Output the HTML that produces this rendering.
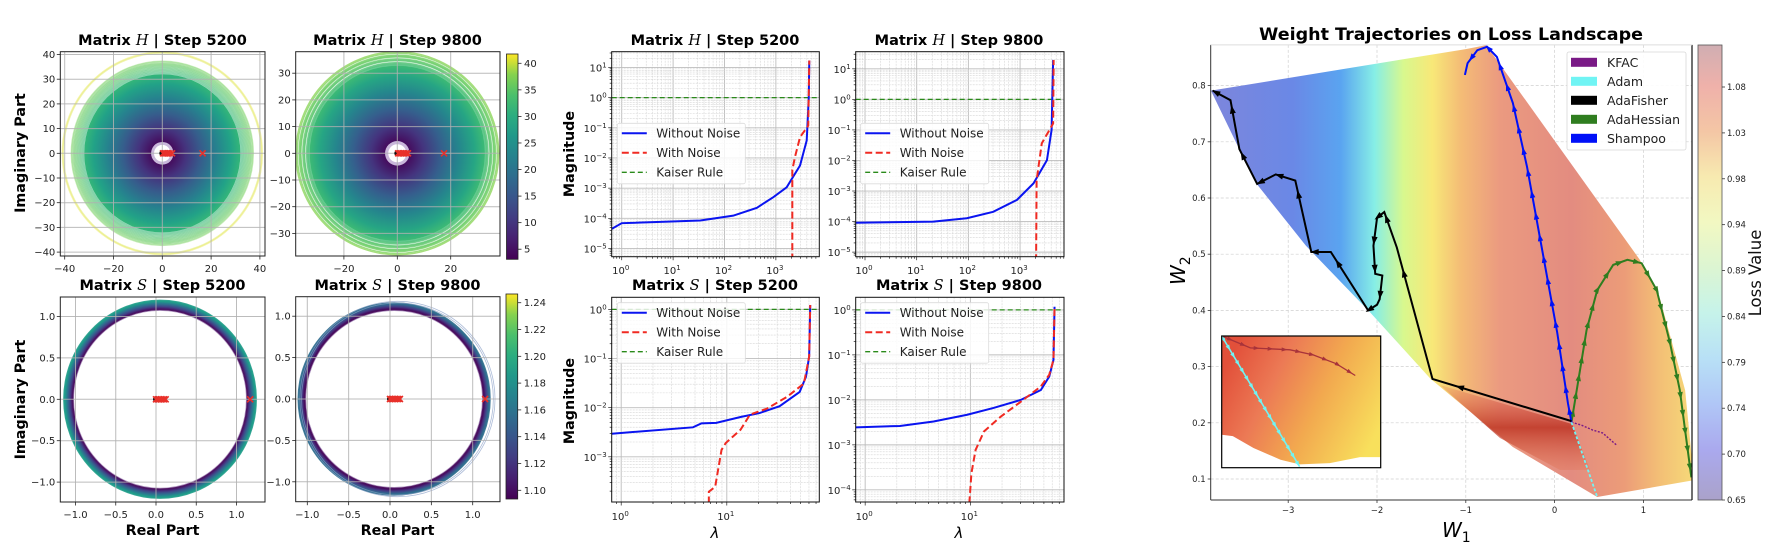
<!DOCTYPE html>
<html><head><meta charset="utf-8"><title>Eigen spectra and weight trajectories</title>
<style>
html,body{margin:0;padding:0;background:#fff;}
svg{display:block;font-family:"DejaVu Sans","Liberation Sans",sans-serif;}
</style></head>
<body>
<svg id="fig" width="1770" height="550" viewBox="0 0 1770 550" xmlns="http://www.w3.org/2000/svg">
<defs id="defs"></defs>
<rect x="0" y="0" width="1770" height="550" fill="#ffffff"/>
</svg>
<script>
// ================= DATA =================
const h1RingRadii=[41,40.6,37.3,37,36.6,36.3,36,35.7,35.4,35.1,34.8,34.5,34.2,33.9,33.6,33.3,33,32.7,32.4,32.1];
const h1Markers=[0.3,0.8,1.3,1.8,2.4,3,4,16.5];
const h2RingRadii=[38,37.5,36.8,36.4,36.1,35.4,35,34.7,34,33.6,33.3,32.9];
const h2Markers=[0.3,0.8,1.3,1.9,2.5,3.2,4,17.5];
const h1XTicks=[-40,-20,0,20,40];
const h1YTicks=[-40,-30,-20,-10,0,10,20,30,40];
const h2XTicks=[-20,0,20];
const h2YTicks=[-30,-20,-10,0,10,20,30];
const cb1Ticks=[5,10,15,20,25,30,35,40];
const s1RingRadii=[1.075,1.09,1.1,1.11,1.12,1.13,1.14,1.15,1.16,1.17,1.18,1.19];
const s1Markers=[0,0.02,0.04,0.06,0.08,0.1,0.12,1.17];
const s2RingRadii=[1.07,1.085,1.095,1.105,1.115,1.125,1.135,1.145,1.155];
const s2Markers=[0,0.02,0.04,0.06,0.08,0.1,0.12,1.15];
const sTicks=[-1,-0.5,0,0.5,1];
const sTickLabels=['\u22121.0','\u22120.5','0.0','0.5','1.0'];
const cb2Ticks=[1.10,1.12,1.14,1.16,1.18,1.20,1.22,1.24];
const p5BlueLx=[-0.195,0,1.53,2.17,2.63,2.95,3.21,3.47,3.6,3.64,3.65];
const p5BlueLy=[-4.35,-4.16,-4.07,-3.91,-3.65,-3.3,-2.97,-2.25,-1.42,0,1.23];
const p5RedLx=[3.32,3.32,3.37,3.47,3.63,3.65];
const p5RedLy=[-5.4,-2.4,-1.98,-1.31,-0.93,1.23];
const p6BlueLx=[-0.18,1.32,1.97,2.48,2.94,3.26,3.52,3.61,3.64];
const p6BlueLy=[-4.04,-4.0,-3.89,-3.68,-3.29,-2.75,-1.99,-1.0,1.29];
const p6RedLx=[3.31,3.32,3.42,3.64,3.65];
const p6RedLy=[-5.3,-2.65,-1.44,-0.79,1.29];
const p7BlueLx=[-0.09,0.68,0.76,0.9,1.13,1.31,1.5,1.69,1.75,1.78,1.79];
const p7BlueLy=[-2.53,-2.4,-2.32,-2.31,-2.19,-2.11,-1.97,-1.68,-1.37,-0.96,0.09];
const p7RedLx=[0.83,0.83,0.89,0.95,0.99,1.13,1.22,1.38,1.57,1.73,1.78,1.79];
const p7RedLy=[-3.95,-3.71,-3.61,-2.86,-2.72,-2.45,-2.14,-2.02,-1.78,-1.51,-0.96,0.09];
const p8BlueLx=[-0.09,0.33,0.65,0.97,1.22,1.48,1.67,1.75,1.79,1.8];
const p8BlueLy=[-2.61,-2.58,-2.48,-2.33,-2.18,-2.0,-1.78,-1.48,-1.11,0.07];
const p8RedLx=[0.99,1.01,1.05,1.13,1.29,1.48,1.67,1.75,1.79,1.8];
const p8RedLy=[-4.3,-3.63,-3.11,-2.7,-2.37,-2.04,-1.7,-1.44,-1.11,0.07];
const kaiserLevel=0;
const fisherW1=[0.19,-1.375,-1.777,-1.918,-1.999,-2.04,-2.02,-1.94,-1.97,-2.0,-2.10,-2.52,-2.74,-2.92,-3.14,-3.35,-3.55,-3.65,-3.85];
const fisherW2=[0.203,0.278,0.512,0.575,0.565,0.515,0.465,0.462,0.42,0.41,0.40,0.504,0.504,0.631,0.642,0.625,0.687,0.774,0.791];
const shampooW1=[0.19,0.15,0.03,-0.16,-0.31,-0.47,-0.65,-0.76,-0.87,-0.98,-1.01];
const shampooW2=[0.201,0.235,0.36,0.525,0.655,0.769,0.851,0.869,0.863,0.84,0.819];
const hessianW1=[0.19,0.36,0.48,0.66,0.82,0.98,1.15,1.30,1.41,1.54];
const hessianW2=[0.201,0.365,0.436,0.481,0.49,0.484,0.436,0.342,0.258,0.103];
const kfacW1=[0.19,0.3,0.43,0.54,0.70];
const kfacW2=[0.201,0.196,0.187,0.182,0.16];
const adamW1=[0.19,0.48];
const adamW2=[0.201,0.068];
const landW1=[-3.87,-1.0,-0.77,0.96,1.19,1.47,1.57,0.48,-0.47,-1.395,-2.08,-2.80,-3.37];
const landW2=[0.791,0.865,0.872,0.49,0.419,0.258,0.098,0.068,0.157,0.278,0.397,0.515,0.628];
const wXTicks=[-3,-2,-1,0,1];
const wYTicks=[0.1,0.2,0.3,0.4,0.5,0.6,0.7,0.8];
const lossTicks=['1.08','1.03','0.98','0.94','0.89','0.84','0.79','0.74','0.70','0.65'];
const legendNames=['KFAC','Adam','AdaFisher','AdaHessian','Shampoo'];
const legendColors=['#7a1a86','#70f4f4','#000000','#2f7d1f','#0010f8'];
const insetCyanX=[0,0.49], insetCyanY=[1,0.008];
const insetKfacX=[0.01,0.18,0.43,0.575,0.72,0.84];
const insetKfacY=[0.995,0.91,0.895,0.857,0.79,0.70];
const insetEdgeX=[0,0.07,0.2,0.37,0.49,0.68,0.87,1];
const insetEdgeY=[0.25,0.24,0.15,0.06,0.025,0.035,0.08,0.08];

// ================= HELPERS =================
const NS='http://www.w3.org/2000/svg';
const svg=document.getElementById('fig');
const defs=document.getElementById('defs');
function mk(tag,attrs,parent){const e=document.createElementNS(NS,tag);for(const k in attrs)e.setAttribute(k,attrs[k]);(parent||svg).appendChild(e);return e;}
function txt(s,attrs,parent){const e=mk('text',attrs,parent);e.textContent=s;return e;}
function lin(d0,d1,p0,p1){return v=>p0+(v-d0)*(p1-p0)/(d1-d0);}
const VIR=[[0,[68,1,84]],[0.13,[72,40,120]],[0.25,[62,73,137]],[0.38,[49,104,142]],[0.5,[38,130,142]],[0.63,[31,158,137]],[0.75,[53,183,121]],[0.88,[110,206,88]],[1,[253,231,37]]];
function viridis(t){t=Math.max(0,Math.min(1,t));for(let i=1;i<VIR.length;i++){if(t<=VIR[i][0]){const a=VIR[i-1],b=VIR[i];const f=(t-a[0])/(b[0]-a[0]);const c=a[1].map((v,j)=>Math.round(v+(b[1][j]-v)*f));return `rgb(${c[0]},${c[1]},${c[2]})`;}}return 'rgb(253,231,37)';}
function sup(parent,base,exp,attrs){const t=mk('text',attrs,parent);t.appendChild(document.createTextNode(base));const s=mk('tspan',{dy:-4,'font-size':7},t);s.textContent=exp;return t;}
function clip(id,x,y,w,h){const c=mk('clipPath',{id:id},defs);mk('rect',{x:x,y:y,width:w,height:h},c);return `url(#${id})`;}
function arrowHead(g,x,y,ang,col,s){
  const c=Math.cos(ang),si=Math.sin(ang);
  const p=[[x+c*s,y+si*s],[x-c*s*0.7-si*s*0.6,y-si*s*0.7+c*s*0.6],[x-c*s*0.7+si*s*0.6,y-si*s*0.7-c*s*0.6]];
  const a=mk('polygon',{points:p.map(q=>q.join(',')).join(' '),fill:col},g);
  
  
}
function arrowsAlong(g,pts,col,step,s){
  let acc=step/2;
  for(let i=1;i<pts.length;i++){const [x1,y1]=pts[i-1],[x2,y2]=pts[i];const L=Math.hypot(x2-x1,y2-y1);if(L<1)continue;const ang=Math.atan2(y2-y1,x2-x1);
    let d=acc;while(d<L){arrowHead(g,x1+(x2-x1)*d/L,y1+(y2-y1)*d/L,ang,col,s);d+=step;}acc=d-L;}
}

// ================= CIRCLE PANELS =================
function frameAndTicks(g,box,sx,sy,xt,xl,yt,yl,xLabY){
  mk('rect',{x:box.x,y:box.y,width:box.w,height:box.h,fill:'none',stroke:'#222','stroke-width':1},g);
  xt.forEach((v,i)=>{const x=sx(v);mk('line',{x1:x,y1:box.y+box.h,x2:x,y2:box.y+box.h+3.5,stroke:'#222','stroke-width':0.8},g);
    const t=txt(xl[i],{x:x,y:xLabY,'font-size':10,'text-anchor':'middle',fill:'#222'},g);
    
    });
  yt.forEach((v,i)=>{const y=sy(v);mk('line',{x1:box.x,y1:y,x2:box.x-3.5,y2:y,stroke:'#222','stroke-width':0.8},g);
    const t=txt(yl[i],{x:box.x-5,y:y+3.5,'font-size':10,'text-anchor':'end',fill:'#222'},g);
    
    });
}
function grid(g,box,sx,sy,xt,yt,col){
  xt.forEach(v=>mk('line',{x1:sx(v),y1:box.y,x2:sx(v),y2:box.y+box.h,stroke:col,'stroke-width':1},g));
  yt.forEach(v=>mk('line',{x1:box.x,y1:sy(v),x2:box.x+box.w,y2:sy(v),stroke:col,'stroke-width':1},g));
}
function markers(g,sx,sy,arr){
  const d=mk('circle',{cx:sx(0),cy:sy(0),r:3,fill:'#111'},g);
  
  
  arr.forEach(v=>{const x=sx(v),y=sy(0);const m=mk('path',{d:`M${x-3},${y-3}L${x+3},${y+3}M${x-3},${y+3}L${x+3},${y-3}`,stroke:'#e8302a','stroke-width':1.6},g);
    
    });
}
function title(s,cx,y,letter){
  const t=mk('text',{x:cx,y:y,'font-size':14.5,'font-weight':'bold','text-anchor':'middle',fill:'#000'});
  t.appendChild(document.createTextNode('Matrix '));
  const sp=mk('tspan',{'font-family':'"DejaVu Serif","Liberation Serif",serif','font-style':'italic','font-weight':'normal'},t);sp.textContent=letter;
  t.appendChild(document.createTextNode(' | '+s));
  
  
}
function hPanel(name,box,cx,cy,kx,ky,rings,disc,mks,xt,yt,ringAlpha,cbMin,cbMax,rw){
  const g=mk('g',{});
  
  
  const sx=v=>cx+v*kx, sy=v=>cy-v*ky;
  const inner=mk('g',{'clip-path':clip(name+'-clip',box.x,box.y,box.w,box.h)},g);
  const gid=name+'-grad';
  const rg=mk('radialGradient',{id:gid},defs);
  [0,0.12,0.3,0.5,0.7,0.88,1].forEach(f=>mk('stop',{offset:f,'stop-color':viridis((f*disc-cbMin)/(cbMax-cbMin))},rg));
  const dd=mk('ellipse',{cx:cx,cy:cy,rx:disc*kx,ry:disc*ky,fill:`url(#${gid})`},inner);
  
  
  rings.forEach(r=>{const e=mk('ellipse',{cx:cx,cy:cy,rx:r*kx,ry:r*ky,fill:'none',stroke:viridis((r-cbMin)/(cbMax-cbMin)),'stroke-width':rw,'stroke-opacity':ringAlpha},inner);
    
    });
  mk('ellipse',{cx:cx,cy:cy,rx:4.6*kx,ry:4.6*ky,fill:'#c9b7da'},inner);
  mk('ellipse',{cx:cx,cy:cy,rx:3.4*kx,ry:3.4*ky,fill:'#ffffff'},inner);
  grid(inner,box,sx,sy,xt,yt,'rgba(176,176,176,0.85)');
  markers(inner,sx,sy,mks);
  frameAndTicks(g,box,sx,sy,xt,xt.map(v=>(v<0?'\u2212':'')+Math.abs(v)),yt,yt.map(v=>(v<0?'\u2212':'')+Math.abs(v)),272);
}
function sPanel(name,box,cx,cy,kx,ky,rings,mks,off,cbMin,cbMax,extra){
  const g=mk('g',{});
  
  
  const sx=v=>cx+v*kx, sy=v=>cy-v*ky;
  const inner=mk('g',{'clip-path':clip(name+'-clip',box.x,box.y,box.w,box.h)},g);
  rings.forEach((r,i)=>{const col=i===0?'#9c7fb4':viridis((r-cbMin)/(cbMax-cbMin));
    const e=mk('ellipse',{cx:sx(off),cy:cy,rx:r*kx,ry:r*ky,fill:'none',stroke:col,'stroke-width':i===0?1.2:2.2,'stroke-opacity':i===0?0.8:0.9},inner);
    
    });
  extra.forEach(r=>{const e=mk('ellipse',{cx:sx(off+0.04),cy:cy,rx:r*kx,ry:r*ky,fill:'none',stroke:'#8aa0c8','stroke-width':0.8,'stroke-opacity':0.7},inner);
    
    });
  grid(inner,box,sx,sy,sTicks,sTicks,'rgba(176,176,176,0.85)');
  markers(inner,sx,sy,mks);
  frameAndTicks(g,box,sx,sy,sTicks,sTickLabels,sTicks,sTickLabels,518);
}
function colorbar(name,x,y,w,h,vmin,vmax,ticks,fmt){
  const g=mk('g',{});
  
  
  const id=name+'-grad';
  const lg=mk('linearGradient',{id:id,x1:0,y1:1,x2:0,y2:0},defs);
  for(let i=0;i<=10;i++)mk('stop',{offset:i/10,'stop-color':viridis(i/10)},lg);
  mk('rect',{x:x,y:y,width:w,height:h,fill:`url(#${id})`,stroke:'#222','stroke-width':0.8},g);
  const s=lin(vmin,vmax,y+h,y);
  ticks.forEach(v=>{mk('line',{x1:x+w,y1:s(v),x2:x+w+3.5,y2:s(v),stroke:'#222','stroke-width':0.8},g);
    const t=txt(fmt(v),{x:x+w+6,y:s(v)+3.5,'font-size':10,fill:'#222'},g);
    
    });
}

hPanel('h-step5200-eigen-plot',{x:60.3,y:51.7,w:204.7,h:204.3},162.3,153.3,2.44,2.47,h1RingRadii,32,h1Markers,h1XTicks,h1YTicks,0.4,3.1,41.8,1.4);
hPanel('h-step9800-eigen-plot',{x:295.7,y:51.7,w:204.3,h:204.3},397.3,153.3,2.67,2.67,h2RingRadii,32.8,h2Markers,h2XTicks,h2YTicks,0.75,3.1,41.8,1.4);
colorbar('h-colorbar',506.5,54,11.5,205.3,3.1,41.75,cb1Ticks,v=>String(v));
sPanel('s-step5200-eigen-plot',{x:60.3,y:297,w:204.7,h:205},156,399.3,80.5,82.8,s1RingRadii,s1Markers,0.05,1.09,1.25,[]);
sPanel('s-step9800-eigen-plot',{x:295.7,y:296.7,w:204.3,h:205},390,399,82.7,82.8,s2RingRadii,s2Markers,0.05,1.09,1.25,[1.16,1.18]);
colorbar('s-colorbar',506,294,11.7,205,1.0935,1.2465,cb2Ticks,v=>v.toFixed(2));
title('Step 5200',162.5,45,'H');
title('Step 9800',397.5,45,'H');
title('Step 5200',162.5,290,'S');
title('Step 9800',397.5,290,'S');
[[153,'imag-axis-title-top'],[399.5,'imag-axis-title-bottom']].forEach(([cy,n])=>{
  const t=txt('Imaginary Part',{x:0,y:0,transform:`translate(25,${cy}) rotate(-90)`,'font-size':14.3,'font-weight':'bold','text-anchor':'middle'});
  
  });
[[162.5,'real-axis-title-left'],[397.5,'real-axis-title-right']].forEach(([cx,n])=>{
  const t=txt('Real Part',{x:cx,y:535,'font-size':14.3,'font-weight':'bold','text-anchor':'middle'});
  
  });

// ================= LOG PANELS =================
function logPanel(name,box,xr,yr,bx,by,rx,ry,legY,legX,xLabY){
  const g=mk('g',{});
  
  
  const sx=lin(xr[0],xr[1],box.x,box.x+box.w), sy=lin(yr[0],yr[1],box.y,box.y+box.h);
  const inner=mk('g',{'clip-path':clip(name+'-clip',box.x,box.y,box.w,box.h)},g);
  const gx=mk('g',{},inner);
  for(let d=Math.floor(xr[0]);d<=Math.ceil(xr[1]);d++){for(let k=1;k<10;k++){const v=d+Math.log10(k);if(v<xr[0]||v>xr[1])continue;
    mk('line',{x1:sx(v),y1:box.y,x2:sx(v),y2:box.y+box.h,stroke:k===1?'#bdbdbd':'#d6d6d6','stroke-width':k===1?0.9:0.6,'stroke-dasharray':k===1?'':'2,1'},gx);
    mk('line',{x1:sx(v),y1:box.y+box.h,x2:sx(v),y2:box.y+box.h+(k===1?3.5:2),stroke:'#222','stroke-width':0.7},g);}}
  const lo=Math.min(yr[0],yr[1]),hi=Math.max(yr[0],yr[1]);
  for(let d=Math.floor(lo);d<=Math.ceil(hi);d++){for(let k=1;k<10;k++){const v=d+Math.log10(k);if(v<lo||v>hi)continue;
    mk('line',{x1:box.x,y1:sy(v),x2:box.x+box.w,y2:sy(v),stroke:k===1?'#bdbdbd':'#d6d6d6','stroke-width':k===1?0.9:0.6,'stroke-dasharray':k===1?'':'2,1'},gx);
    mk('line',{x1:box.x,y1:sy(v),x2:box.x-(k===1?3.5:2),y2:sy(v),stroke:'#222','stroke-width':0.7},g);}}
  const kl=mk('line',{x1:box.x,y1:sy(kaiserLevel),x2:box.x+box.w,y2:sy(kaiserLevel),stroke:'#2a8a1a','stroke-width':1.3,'stroke-dasharray':'5,3'},inner);
  
  
  const bl=mk('polyline',{points:bx.map((v,i)=>sx(v)+','+sy(by[i])).join(' '),fill:'none',stroke:'#0a14f0','stroke-width':2},inner);
  
  
  const rl=mk('polyline',{points:rx.map((v,i)=>sx(v)+','+sy(ry[i])).join(' '),fill:'none',stroke:'#f02a22','stroke-width':2,'stroke-dasharray':'7,3.5'},inner);
  
  
  mk('rect',{x:box.x,y:box.y,width:box.w,height:box.h,fill:'none',stroke:'#111','stroke-width':1},g);
  for(let d=Math.ceil(xr[0]);d<=Math.floor(xr[1]);d++){const t=sup(g,'10',String(d),{x:sx(d)-1,y:xLabY,'font-size':10,'text-anchor':'middle',fill:'#222'});
    
    }
  for(let d=Math.ceil(lo);d<=Math.floor(hi);d++){const t=sup(g,'10',d<0?'\u2212'+(-d):String(d),{x:box.x-5,y:sy(d)+4,'font-size':10,'text-anchor':'end',fill:'#222'});
    
    }
  const lgG=mk('g',{},g);
  
  
  mk('rect',{x:legX,y:legY,width:128,height:60.5,rx:2,fill:'rgba(255,255,255,0.82)',stroke:'#dcdcdc','stroke-width':0.8},lgG);
  [['Without Noise','#0a14f0',''],['With Noise','#f02a22','7,3.5'],['Kaiser Rule','#2a8a1a','5,3']].forEach(([s,c,da],i)=>{
    const yy=legY+10+i*19.5;
    mk('line',{x1:legX+4.5,y1:yy,x2:legX+29.5,y2:yy,stroke:c,'stroke-width':i===2?1.3:2,'stroke-dasharray':da},lgG);
    const t=txt(s,{x:legX+39,y:yy+4.3,'font-size':12,fill:'#222'},lgG);
    
    });
}
logPanel('h-step5200-spectrum',{x:611.7,y:51.7,w:207.6,h:205},[-0.195,3.845],[1.52,-5.27],p5BlueLx,p5BlueLy,p5RedLx,p5RedLy,123.3,617.3,274);
logPanel('h-step9800-spectrum',{x:855.7,y:51.7,w:208.3,h:205},[-0.18,3.85],[1.56,-5.15],p6BlueLx,p6BlueLy,p6RedLx,p6RedLy,123.3,860.7,274);
logPanel('s-step5200-spectrum',{x:611.7,y:297.3,w:207.6,h:204.7},[-0.09,1.876],[0.246,-3.92],p7BlueLx,p7BlueLy,p7RedLx,p7RedLy,302.7,617.3,520);
logPanel('s-step9800-spectrum',{x:855.7,y:297.3,w:208.3,h:204.7},[-0.09,1.89],[0.28,-4.27],p8BlueLx,p8BlueLy,p8RedLx,p8RedLy,302.7,860.7,520);
title('Step 5200',715,45,'H');
title('Step 9800',959,45,'H');
title('Step 5200',715,290,'S');
title('Step 9800',959,290,'S');
[[154,'magnitude-axis-title-top'],[401,'magnitude-axis-title-bottom']].forEach(([cy,n])=>{
  const t=txt('Magnitude',{x:0,y:0,transform:`translate(574,${cy}) rotate(-90)`,'font-size':14.3,'font-weight':'bold','text-anchor':'middle'});
  
  });
[[715,'lambda-axis-title-left'],[959,'lambda-axis-title-right']].forEach(([cx,n])=>{
  const t=txt('\u03bb',{x:cx,y:538,'font-size':15,'font-style':'italic','text-anchor':'middle'});
  
  });

// ================= LOSS LANDSCAPE =================
(function(){
  const box={x:1210.7,y:44.9,w:481.3,h:455.1};
  const sx=lin(0,1,1554.6,1643.4), sy=lin(0.8,0.7,85.6,141.8);
  const g=mk('g',{});
  
  
  const inner=mk('g',{'clip-path':clip('land-clip',box.x,box.y,box.w,box.h)},g);
  wXTicks.forEach(v=>mk('line',{x1:sx(v),y1:box.y,x2:sx(v),y2:box.y+box.h,stroke:'#cfcfcf','stroke-width':0.7,'stroke-dasharray':'3,2'},inner));
  wYTicks.forEach(v=>mk('line',{x1:box.x,y1:sy(v),x2:box.x+box.w,y2:sy(v),stroke:'#cfcfcf','stroke-width':0.7,'stroke-dasharray':'3,2'},inner));
  const lg=mk('linearGradient',{id:'land-grad',gradientUnits:'userSpaceOnUse',x1:1211,y1:0,x2:1692,y2:0},defs);
  [[0,'#7d86dc'],[0.17,'#6a88e6'],[0.27,'#5aa4f0'],[0.34,'#86eee6'],[0.4,'#d8f88e'],[0.46,'#f8e878'],[0.52,'#f4bc76'],[0.6,'#eb9a80'],[0.75,'#e38c80'],[0.86,'#ec9c78'],[0.93,'#f3be76'],[1,'#f6d878']].forEach(([o,c])=>mk('stop',{offset:o,'stop-color':c},lg));
  const land=mk('polygon',{points:landW1.map((v,i)=>sx(v)+','+sy(landW2[i])).join(' '),fill:'url(#land-grad)'},inner);
  
  
  const dr=mk('linearGradient',{id:'dark-grad',x1:0,y1:0,x2:0,y2:1},defs);
  mk('stop',{offset:0,'stop-color':'#e06050','stop-opacity':0.2},dr);mk('stop',{offset:0.5,'stop-color':'#b82818','stop-opacity':0.75},dr);mk('stop',{offset:1,'stop-color':'#e07050','stop-opacity':0.3},dr);
  const streak=mk('polygon',{points:'1440,385 1572,424 1590,470 1560,470 1500,438',fill:'url(#dark-grad)'},inner);
  
  
  function path(xs,ys,col,w,da,name,step,s){
    const pts=xs.map((v,i)=>[sx(v),sy(ys[i])]);
    const p=mk('polyline',{points:pts.map(q=>q.join(',')).join(' '),fill:'none',stroke:col,'stroke-width':w,'stroke-dasharray':da},inner);
    
    
    if(step)arrowsAlong(inner,pts,col,step,s);
  }
  path(hessianW1,hessianW2,'#2f7d1f',2,'','adahessian-trajectory',18,4.5);
  path(shampooW1,shampooW2,'#0010f8',2,'','shampoo-trajectory',22,4.5);
  path(fisherW1,fisherW2,'#000',2,'','adafisher-trajectory',0,0);
  const fp=fisherW1.map((v,i)=>[sx(v),sy(fisherW2[i])]);
  for(let i=1;i<fp.length;i++){const [x1,y1]=fp[i-1],[x2,y2]=fp[i];if(Math.hypot(x2-x1,y2-y1)>8)arrowHead(inner,x1+(x2-x1)*0.8,y1+(y2-y1)*0.8,Math.atan2(y2-y1,x2-x1),'#000',5);}
  path(kfacW1,kfacW2,'#7a1a86',1.4,'2,1.5','kfac-trajectory',0,0);
  path(adamW1,adamW2,'#70f4f4',1.8,'3,2','adam-trajectory',0,0);
  const ib={x:1221.7,y:336,w:159,h:131.7};
  const ix=lin(0,1,ib.x,ib.x+ib.w), iy=lin(0,1,ib.y+ib.h,ib.y);
  const ig=mk('g',{},g);
  
  
  const ing=mk('linearGradient',{id:'inset-grad',x1:0,y1:0.3,x2:1,y2:0.7},defs);
  [[0,'#e2503a'],[0.3,'#ec7a55'],[0.6,'#f2a94f'],[1,'#f8e05c']].forEach(([o,c])=>mk('stop',{offset:o,'stop-color':c},ing));
  mk('rect',{x:ib.x,y:ib.y,width:ib.w,height:ib.h,fill:'#ffffff'},ig);
  const fillPts=[[ix(0),iy(1)],[ix(1),iy(1)]].concat(insetEdgeX.slice().reverse().map((v,i)=>[ix(v),iy(insetEdgeY[insetEdgeY.length-1-i])]));
  mk('polygon',{points:fillPts.map(q=>q.join(',')).join(' '),fill:'url(#inset-grad)'},ig);
  const cy=insetCyanX.map((v,i)=>[ix(v),iy(insetCyanY[i])]);
  const cl=mk('polyline',{points:cy.map(q=>q.join(',')).join(' '),fill:'none',stroke:'#70f4f4','stroke-width':1.6},ig);
  
  
  arrowsAlong(ig,cy,'#70f4f4',9,3.4);
  const kp=insetKfacX.map((v,i)=>[ix(v),iy(insetKfacY[i])]);
  const kl=mk('polyline',{points:kp.map(q=>q.join(',')).join(' '),fill:'none',stroke:'#a8333a','stroke-width':1.3},ig);
  
  
  arrowsAlong(ig,kp,'#a8333a',14,3.4);
  mk('rect',{x:ib.x,y:ib.y,width:ib.w,height:ib.h,fill:'none',stroke:'#000','stroke-width':1.2},ig);
  mk('line',{x1:box.x,y1:box.y,x2:box.x,y2:box.y+box.h,stroke:'#333','stroke-width':1},g);
  mk('line',{x1:box.x,y1:box.y+box.h,x2:box.x+box.w,y2:box.y+box.h,stroke:'#333','stroke-width':1},g);
  mk('line',{x1:box.x+box.w,y1:box.y,x2:box.x+box.w,y2:box.y+box.h,stroke:'#111','stroke-width':1.2},g);
  mk('line',{x1:box.x,y1:box.y,x2:box.x+box.w,y2:box.y,stroke:'#ddd','stroke-width':1},g);
  wXTicks.forEach(v=>{mk('line',{x1:sx(v),y1:box.y+box.h,x2:sx(v),y2:box.y+box.h+3,stroke:'#333','stroke-width':0.8},g);
    const t=txt(v<0?'\u2212'+(-v):String(v),{x:sx(v),y:box.y+box.h+13,'font-size':8.5,'text-anchor':'middle',fill:'#222'},g);
    
    });
  wYTicks.forEach(v=>{mk('line',{x1:box.x,y1:sy(v),x2:box.x-3,y2:sy(v),stroke:'#333','stroke-width':0.8},g);
    const t=txt(v.toFixed(1),{x:box.x-5,y:sy(v)+3,'font-size':8.5,'text-anchor':'end',fill:'#222'},g);
    
    });
  const lgG=mk('g',{},g);
  
  
  mk('rect',{x:1567,y:52,width:119,height:98,rx:2,fill:'rgba(255,255,255,0.9)',stroke:'#d8d8d8','stroke-width':0.8},lgG);
  legendNames.forEach((n,i)=>{const yy=62.3+i*19;
    mk('rect',{x:1571,y:yy-4.5,width:26,height:9,fill:legendColors[i]},lgG);
    const t=txt(n,{x:1607,y:yy+4.5,'font-size':12.5,fill:'#222'},lgG);
    
    });
  const cg=mk('linearGradient',{id:'loss-grad',x1:0,y1:0,x2:0,y2:1},defs);
  [[0,'#d0aeb2'],[0.09,'#efb1aa'],[0.19,'#f4c6a5'],[0.29,'#f7eab0'],[0.39,'#f2f8c2'],[0.49,'#dcf5d2'],[0.59,'#c6f3ea'],[0.69,'#b8e0f6'],[0.79,'#b0c6f6'],[0.89,'#aaa9ee'],[1,'#aaa2ca']].forEach(([o,c])=>mk('stop',{offset:o,'stop-color':c},cg));
  const cb=mk('rect',{x:1698,y:45,width:24,height:455,fill:'url(#loss-grad)',stroke:'#555','stroke-width':0.8},g);
  
  
  const cs=lin(0,9,87,500);
  lossTicks.forEach((s,i)=>{mk('line',{x1:1722,y1:cs(i),x2:1725,y2:cs(i),stroke:'#333','stroke-width':0.8},g);
    const t=txt(s,{x:1727,y:cs(i)+3,'font-size':8.5,fill:'#222'},g);
    
    });
  const cl2=txt('Loss Value',{x:0,y:0,transform:'translate(1761,273) rotate(-90)','font-size':16.5,'text-anchor':'middle',fill:'#111'},g);
  
  
  const tt=txt('Weight Trajectories on Loss Landscape',{x:1451,y:40,'font-size':16.5,'font-weight':'bold','text-anchor':'middle',textLength:384,lengthAdjust:'spacingAndGlyphs'},g);
  
  
  const w1=mk('text',{x:1442,y:537,'font-size':20,'font-style':'italic'},g);w1.appendChild(document.createTextNode('W'));const s1=mk('tspan',{dy:5,'font-size':14,'font-style':'normal'},w1);s1.textContent='1';
  
  
  const w2=mk('text',{x:0,y:0,transform:'translate(1185,285) rotate(-90)','font-size':20,'font-style':'italic'},g);w2.appendChild(document.createTextNode('W'));const s2=mk('tspan',{dy:5,'font-size':14,'font-style':'normal'},w2);s2.textContent='2';
  
  
})();
</script>
</body></html>
